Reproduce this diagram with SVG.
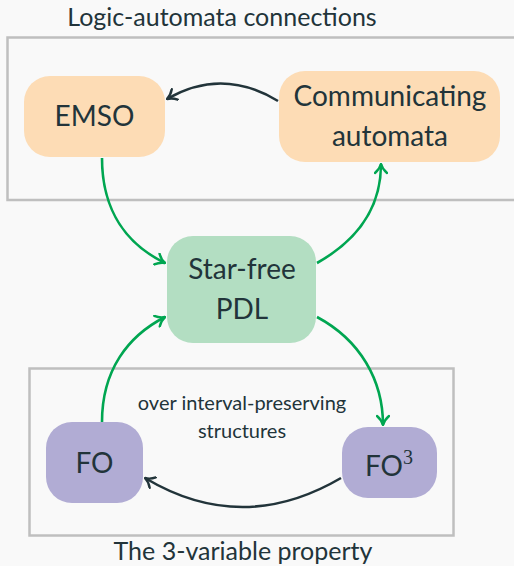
<svg xmlns="http://www.w3.org/2000/svg" width="514" height="566" viewBox="0 0 514 566">
<defs>
<style>
text{font-family:Lato,"Open Sans","DejaVu Sans",sans-serif;fill:#22343a;text-anchor:middle}
.lbl{font-size:28px}
.cap{font-size:25px}
.sm{font-size:20px}
.frame{fill:none;stroke:#bfbfbf;stroke-width:2.5}
.g{fill:none;stroke:#00a651;stroke-width:2.6}
.d{fill:none;stroke:#22343a;stroke-width:2.6}
</style>
<marker id="ag" viewBox="-11 -7 12 14" refX="0" refY="0" markerWidth="12" markerHeight="14" markerUnits="userSpaceOnUse" orient="auto">
<path d="M-9,-6 C-6,-2.5 -2.5,-0.7 0,0 C-2.5,0.7 -6,2.5 -9,6" fill="none" stroke="#00a651" stroke-width="2.4" stroke-linecap="round" stroke-linejoin="round"/>
</marker>
<marker id="ad" viewBox="-11 -7 12 14" refX="0" refY="0" markerWidth="12" markerHeight="14" markerUnits="userSpaceOnUse" orient="auto">
<path d="M-9,-6 C-6,-2.5 -2.5,-0.7 0,0 C-2.5,0.7 -6,2.5 -9,6" fill="none" stroke="#22343a" stroke-width="2.4" stroke-linecap="round" stroke-linejoin="round"/>
</marker>
</defs>
<rect width="514" height="566" fill="#f9f9f9"/>
<g id="frames">
<rect class="frame" x="7.5" y="37.5" width="520" height="162.5"/>
<text class="cap" x="222" y="26">Logic-automata connections</text>
<rect class="frame" x="29.5" y="368.5" width="424" height="167"/>
<text class="cap" x="243" y="560">The 3-variable property</text>
<text class="sm" x="242" y="410">over interval-preserving</text>
<text class="sm" x="242" y="438">structures</text>
</g>
<g id="connectors">
<path class="d" d="M278,101 Q222,67 167,99" marker-end="url(#ad)"/>
<path class="g" d="M102,158 C102,212 128,245 165,263" marker-end="url(#ag)"/>
<path class="g" d="M317,263 C356,241 381,210 381,164" marker-end="url(#ag)"/>
<path class="g" d="M317,317 C360,340 383,380 383,425" marker-end="url(#ag)"/>
<path class="g" d="M102,422 C102,370 128,336 165,317" marker-end="url(#ag)"/>
<path class="d" d="M341,478 Q242,536 145,478" marker-end="url(#ad)"/>
</g>
<g id="emso">
<rect x="24" y="76" width="141" height="81" rx="26" fill="#fddcb5"/>
<text class="lbl" x="94.5" y="126">EMSO</text>
</g>
<g id="comm">
<rect x="279" y="71" width="221" height="91" rx="26" fill="#fddcb5"/>
<text class="lbl" x="390" y="106">Communicating</text>
<text class="lbl" x="390" y="146">automata</text>
</g>
<g id="pdl">
<rect x="167" y="236" width="149" height="107" rx="26" fill="#b3dec2"/>
<text class="lbl" x="242" y="279">Star-free</text>
<text class="lbl" x="242" y="319">PDL</text>
</g>
<g id="fo">
<rect x="46" y="422" width="97" height="81" rx="26" fill="#b1acd4"/>
<text class="lbl" x="94.5" y="473">FO</text>
</g>
<g id="fo3">
<rect x="342" y="427" width="95" height="71" rx="26" fill="#b1acd4"/>
<text class="lbl" x="389" y="476">FO<tspan font-family="'Liberation Serif',serif" font-size="20" dy="-12">3</tspan></text>
</g>
</svg>
